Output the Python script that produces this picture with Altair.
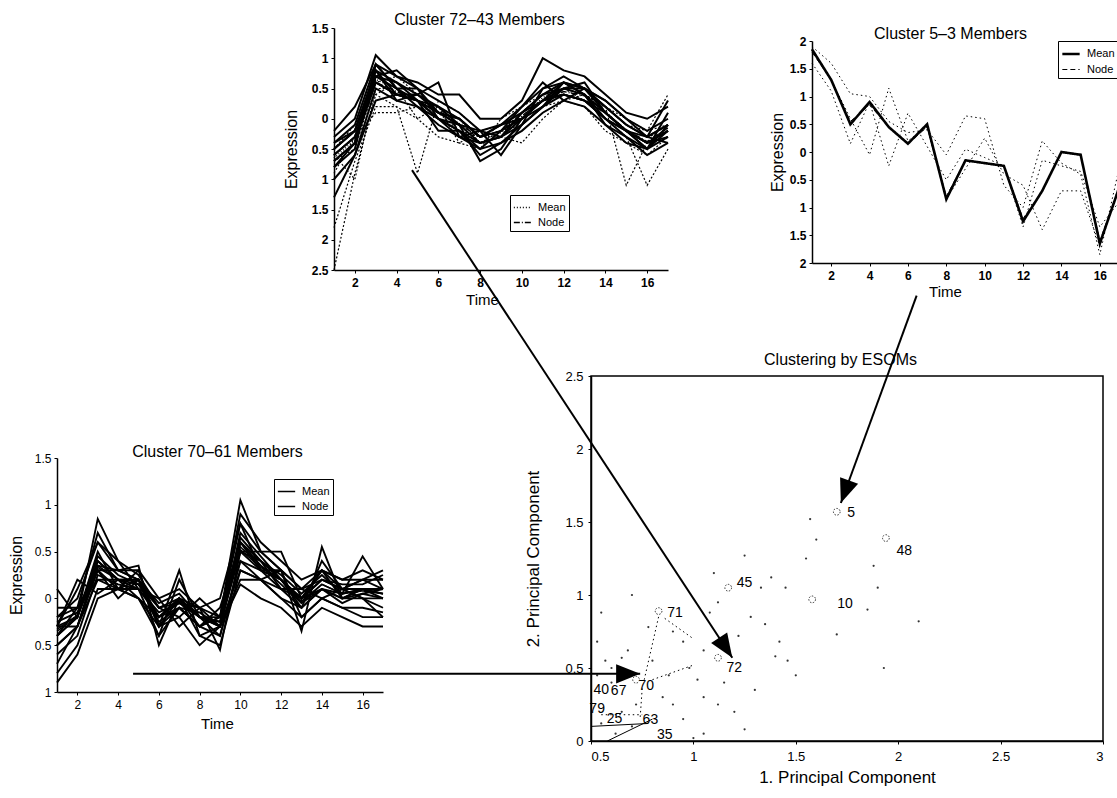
import math
import altair as alt
import pandas as pd

W, H = 1117, 798
FONT = "Liberation Sans"

# ---------------- data ----------------
TIME = list(range(1, 18))
TIME_TICKS = [2, 4, 6, 8, 10, 12, 14, 16]

# Cluster 72 (43 members, a readable subset)
C72_MEMBERS = [
    [-0.5, -0.2, 0.8, 0.6, 0.4, 0.2, 0.0, -0.3, -0.1, 0.1, 0.4, 0.6, 0.5, 0.2, -0.1, -0.3, -0.1],
    [-0.8, -0.4, 0.6, 0.4, 0.3, 0.0, -0.2, -0.4, -0.3, 0.0, 0.3, 0.4, 0.3, 0.0, -0.2, -0.5, -0.3],
    [-0.3, 0.0, 1.05, 0.7, 0.5, 0.3, 0.1, -0.2, -0.1, 0.2, 0.5, 0.7, 0.5, 0.3, 0.0, -0.2, 0.0],
    [-1.0, -0.6, 0.5, 0.3, 0.2, -0.1, -0.3, -0.5, -0.4, -0.1, 0.2, 0.4, 0.3, 0.0, -0.3, -0.6, -0.4],
    [-0.6, -0.3, 0.7, 0.5, 0.5, 0.1, -0.1, -0.7, -0.5, 0.0, 0.3, 0.6, 0.4, 0.1, -0.2, -0.4, -0.2],
    [-2.5, -0.9, 0.4, 0.6, 0.3, 0.2, -0.2, -0.3, -0.2, 0.1, 0.4, 0.5, 0.4, 0.2, -0.1, -0.3, -0.2],
    [-0.4, -0.1, 0.9, 0.5, 0.2, 0.0, -0.1, -0.2, -0.3, 0.1, 0.3, 0.5, 0.6, 0.1, -0.2, -0.5, 0.1],
    [-0.7, -0.5, 0.6, 0.7, 0.4, 0.2, 0.0, -0.4, -0.2, -0.1, 0.2, 0.3, 0.4, 0.2, -1.1, -0.4, -0.3],
    [-0.9, -0.3, 0.1, 0.1, 0.2, 0.1, -0.2, -0.3, -0.3, 0.0, 0.3, 0.5, 0.3, 0.0, -0.3, -1.1, -0.5],
    [-0.5, -0.2, 0.8, 0.4, 0.4, 0.6, -0.3, -0.2, -0.6, -0.1, 0.5, 0.6, 0.5, 0.3, 0.0, -0.3, -0.1],
    [-0.6, -1.0, 0.5, 0.5, 0.0, 0.2, -0.4, -0.5, 0.0, 0.2, 0.4, 0.4, 0.3, 0.2, -0.1, -0.2, 0.4],
    [-1.3, -0.6, 0.3, 0.4, 0.3, -0.2, -0.2, -0.6, -0.4, -0.2, 0.1, 0.3, 0.2, -0.1, -0.4, -0.5, -0.2],
    [-0.2, 0.2, 0.9, 0.7, 0.6, 0.4, 0.4, 0.0, 0.0, 0.3, 1.0, 0.8, 0.7, 0.4, 0.1, 0.0, 0.2],
    [-0.7, -0.4, 0.7, 0.6, 0.3, 0.0, -0.3, -0.4, -0.3, -0.1, 0.2, 0.5, 0.5, 0.1, -0.2, -0.4, -0.3],
    [-0.5, -0.1, 0.4, 0.2, -0.9, 0.3, 0.1, -0.2, -0.1, 0.1, 0.4, 0.6, 0.4, 0.2, 0.0, -0.2, -0.1],
    [-0.8, -0.5, 0.9, 0.5, 0.3, 0.1, 0.0, -0.3, -0.2, 0.0, 0.3, 0.4, 0.3, 0.1, -0.2, -0.3, -0.4],
    [-0.6, -0.3, 0.6, 0.4, 0.3, 0.2, -0.1, -0.4, -0.3, 0.1, 0.4, 0.5, 0.4, 0.0, -0.2, -0.4, -0.2],
    [-1.8, -0.7, 0.2, 0.2, 0.0, -0.3, -0.4, -0.2, -0.3, -0.4, 0.0, 0.3, 0.2, -0.2, -0.4, -0.6, -0.3],
    [-0.4, -0.2, 0.7, 0.8, 0.5, 0.0, -0.2, -0.5, -0.2, 0.2, 0.6, 0.3, 0.5, 0.2, -0.1, -0.3, 0.3],
    [-0.7, -0.4, 0.8, 0.3, 0.4, 0.1, 0.0, -0.3, -0.1, 0.0, 0.2, 0.6, 0.4, -0.1, -0.3, -0.5, -0.1],
]
C72_DOTTED = [5, 7, 8, 10, 14, 17]
C72_MEAN = [-0.65, -0.35, 0.65, 0.5, 0.3, 0.12, -0.08, -0.3, -0.23, 0.03, 0.35, 0.5, 0.4, 0.12, -0.2, -0.4, -0.15]
C72_NODE = [-0.6, -0.3, 0.6, 0.45, 0.3, 0.1, -0.1, -0.3, -0.2, 0.05, 0.3, 0.45, 0.38, 0.1, -0.18, -0.38, -0.15]
C72_Y_TICKS = [-2.5, -2, -1.5, -1, -0.5, 0, 0.5, 1, 1.5]

# Cluster 5 (3 members)
C5_MEMBERS = [
    [1.9, 1.6, 1.05, 1.0, 0.55, 0.35, 0.4, -0.05, 0.65, 0.6, -0.6, -1.0, 0.2, -0.2, -0.4, -1.85, -0.3],
    [1.6, 1.1, 0.15, 0.9, -0.25, 0.7, 0.1, -0.5, 0.05, -0.1, -0.25, -1.35, -0.15, -0.25, -0.35, -1.35, -0.9],
    [1.85, 1.3, 0.6, -0.05, 1.15, 0.2, 0.45, -0.85, -0.3, 0.25, -0.4, -0.6, -1.4, -0.7, -0.7, -1.7, -0.6],
]
C5_MEAN = [1.85, 1.3, 0.5, 0.9, 0.45, 0.15, 0.5, -0.85, -0.15, -0.2, -0.25, -1.25, -0.7, 0.0, -0.05, -1.65, -0.65]
C5_NODE = [1.8, 1.3, 0.55, 0.85, 0.45, 0.15, 0.45, -0.8, -0.15, -0.2, -0.25, -1.2, -0.7, 0.0, -0.05, -1.6, -0.65]
C5_Y_TICKS = [-2, -1.5, -1, -0.5, 0, 0.5, 1, 1.5, 2]

# Cluster 70 (61 members, a readable subset)
C70_MEMBERS = [
    [-0.3, -0.2, 0.4, 0.2, 0.2, -0.2, 0.0, -0.2, -0.3, 0.6, 0.4, 0.2, 0.0, 0.2, 0.1, 0.1, 0.1],
    [-0.5, -0.3, 0.2, 0.1, 0.1, -0.4, -0.1, -0.3, -0.4, 0.4, 0.3, 0.1, -0.1, 0.1, 0.0, 0.0, -0.1],
    [-0.2, 0.0, 0.6, 0.3, 0.3, 0.0, 0.1, -0.1, -0.2, 0.8, 0.5, 0.3, 0.1, 0.3, 0.2, 0.2, 0.2],
    [-0.8, -0.5, 0.1, 0.1, 0.0, -0.3, 0.3, -0.4, -0.5, 0.3, 0.2, 0.0, -0.2, 0.0, -0.1, -0.2, -0.2],
    [0.1, -0.2, 0.85, 0.4, 0.25, -0.1, -0.2, 0.0, -0.2, 1.05, 0.5, 0.5, 0.0, 0.3, 0.1, 0.2, 0.3],
    [-0.4, -0.1, 0.3, 0.3, 0.35, -0.5, 0.0, -0.3, -0.1, 0.6, 0.3, 0.3, -0.35, 0.55, 0.0, 0.1, 0.0],
    [-0.3, 0.2, 0.05, 0.2, 0.2, -0.3, -0.2, -0.5, -0.3, 0.2, 0.2, 0.1, 0.0, 0.1, 0.05, 0.45, 0.1],
    [-0.6, -0.4, 0.25, 0.15, 0.1, -0.15, -0.05, -0.1, -0.55, 0.5, 0.4, 0.1, 0.1, 0.2, 0.1, 0.0, -0.2],
    [-0.1, -0.1, 0.7, 0.3, 0.2, -0.05, 0.05, -0.2, -0.2, 0.9, 0.6, 0.4, 0.2, 0.3, 0.2, 0.3, 0.2],
    [-0.9, -0.6, 0.0, 0.1, 0.0, -0.2, 0.0, -0.2, -0.3, 0.15, 0.0, -0.1, -0.3, -0.1, -0.2, -0.3, -0.3],
    [-0.3, -0.3, 0.35, 0.3, 0.2, -0.1, 0.0, -0.1, -0.3, 0.7, 0.45, 0.2, 0.0, 0.3, 0.0, 0.1, 0.1],
    [-0.4, -0.2, 0.5, 0.1, 0.3, -0.3, -0.1, -0.3, -0.2, 0.5, 0.5, 0.3, 0.1, 0.0, 0.1, 0.0, 0.0],
    [-0.2, -0.1, 0.2, 0.2, 0.0, -0.4, 0.2, -0.2, -0.4, 0.4, 0.2, 0.0, -0.1, 0.4, 0.1, 0.2, 0.1],
    [-0.5, -0.3, 0.4, 0.2, 0.1, -0.2, -0.1, -0.3, -0.2, 0.6, 0.35, 0.15, -0.05, 0.1, -0.05, 0.05, 0.0],
    [-0.3, 0.1, 0.6, 0.4, 0.1, 0.0, -0.3, -0.1, 0.0, 0.8, 0.3, 0.2, 0.0, 0.2, 0.15, 0.15, 0.25],
    [-0.7, -0.3, 0.3, 0.0, 0.2, -0.3, 0.0, -0.4, -0.3, 0.3, 0.2, 0.3, -0.2, 0.0, -0.1, -0.1, -0.15],
    [-0.4, -0.2, 0.45, 0.25, 0.15, -0.1, -0.05, -0.2, -0.25, 0.65, 0.4, 0.25, 0.05, 0.25, 0.05, 0.1, 0.05],
    [-0.25, -0.15, 0.3, 0.1, 0.2, -0.25, -0.1, -0.15, -0.3, 0.5, 0.3, 0.2, -0.1, 0.1, 0.0, 0.05, 0.1],
]
C70_MEAN = [-0.35, -0.2, 0.35, 0.2, 0.15, -0.2, -0.05, -0.2, -0.25, 0.55, 0.35, 0.2, -0.05, 0.15, 0.05, 0.1, 0.05]
C70_NODE = [-0.33, -0.18, 0.33, 0.2, 0.15, -0.2, -0.03, -0.2, -0.25, 0.52, 0.33, 0.2, -0.03, 0.15, 0.05, 0.08, 0.05]
C70_Y_TICKS = [-1, -0.5, 0, 0.5, 1, 1.5]

# ESOM scatter (principal components)
SC_X_TICKS = [0.5, 1, 1.5, 2, 2.5, 3]
SC_Y_TICKS = [0, 0.5, 1, 1.5, 2, 2.5]
NODE_LABEL = ["5", "48", "45", "10", "71", "72", "70", "40", "67", "79", "25", "63", "35"]
NODE_LX = [1.77, 2.03, 1.25, 1.74, 0.91, 1.20, 0.77, 0.55, 0.635, 0.53, 0.615, 0.79, 0.86]
NODE_LY = [1.56, 1.30, 1.08, 0.94, 0.88, 0.50, 0.38, 0.35, 0.34, 0.22, 0.15, 0.145, 0.04]
GLYPH_X = [1.70, 1.94, 1.17, 1.58, 0.83, 1.12, 0.72]
GLYPH_Y = [1.57, 1.39, 1.05, 0.97, 0.89, 0.57, 0.42]
DOT_X = [0.55, 0.53, 0.57, 0.60, 0.65, 0.70, 0.78, 0.68, 0.90, 0.95, 0.98, 1.02, 1.05, 1.08,
         1.12, 1.10, 1.25, 1.22, 1.28, 1.33, 1.35, 1.40, 1.42, 1.46, 1.55, 1.57, 1.60, 1.45,
         1.70, 1.85, 1.90, 1.88, 1.93, 2.10, 1.05, 1.12, 1.20, 1.25, 0.90, 0.85, 0.95, 1.00,
         1.05, 0.62, 0.70, 0.55, 0.65, 0.72, 1.15, 1.30, 1.50, 0.80, 0.88, 0.60, 0.53, 1.38]
DOT_Y = [0.88, 0.68, 0.55, 0.50, 0.57, 1.00, 0.78, 0.62, 0.75, 0.68, 0.50, 0.42, 0.62, 0.88,
         0.95, 1.15, 1.27, 0.72, 0.85, 1.05, 0.80, 0.58, 0.68, 0.55, 1.25, 1.52, 1.38, 1.05,
         0.73, 0.90, 1.05, 1.20, 0.50, 0.82, 0.30, 0.25, 0.20, 0.08, 0.25, 0.30, 0.15, 0.02,
         0.05, 0.05, 0.10, 0.12, 0.20, 0.25, 0.40, 0.35, 0.45, 0.55, 0.45, 0.40, 0.45, 1.12]
EDGE_X1 = [0.83, 0.86, 0.80, 0.75, 0.55, 0.50, 0.58]
EDGE_Y1 = [0.85, 0.84, 0.42, 0.36, 0.18, 0.10, 0.00]
EDGE_X2 = [0.76, 1.00, 1.00, 0.74, 0.75, 0.78, 0.80]
EDGE_Y2 = [0.42, 0.70, 0.52, 0.16, 0.18, 0.12, 0.15]
EDGE_SOLID = [False, False, False, False, False, True, True]

# arrows linking panels to nodes, in principal-component coordinates
ARROW_X0 = [-0.374, 2.09, -1.736]
ARROW_Y0 = [3.91, 3.05, 0.46]
ARROW_X1 = [1.19, 1.72, 0.74]
ARROW_Y1 = [0.57, 1.63, 0.46]

# ---------------- layout (plot areas in pixels) ----------------
BOX = {
    "c72": {"xd": [1, 17], "yd": [-2.5, 1.5], "xr": [334, 668], "yr": [270, 28]},
    "c5": {"xd": [1, 17], "yd": [-2, 2], "xr": [812, 1119], "yr": [263, 41]},
    "c70": {"xd": [1, 17], "yd": [-1, 1.5], "xr": [57, 383], "yr": [692, 458]},
    "sc": {"xd": [0.5, 3], "yd": [0, 2.5], "xr": [591, 1103], "yr": [741, 376]},
}


def sx(p):
    return alt.Scale(domain=BOX[p]["xd"], range=BOX[p]["xr"], nice=False, zero=False)


def sy(p):
    return alt.Scale(domain=BOX[p]["yd"], range=BOX[p]["yr"], nice=False, zero=False)


def long(series_list, prefix, idx=None):
    rows = []
    for i, s in enumerate(series_list):
        if idx is not None and i not in idx:
            continue
        for t, v in zip(TIME, s):
            rows.append({"t": t, "v": v, "id": f"{prefix}{i}"})
    return pd.DataFrame(rows)


def mean_node(mean, node):
    rows = [{"t": t, "v": v, "kind": "Mean"} for t, v in zip(TIME, mean)]
    rows += [{"t": t, "v": v, "kind": "Node"} for t, v in zip(TIME, node)]
    return pd.DataFrame(rows)


def bottom_axis(p, title, values, label_expr, bold, lsize, tsize, tpad, lpad, title_x=None):
    kw = dict(orient="bottom", offset=BOX[p]["yr"][0] - H, title=title, values=values,
              labelExpr=label_expr, labelFont=FONT, labelFontSize=lsize,
              labelFontWeight="bold" if bold else "normal", titleFont=FONT,
              titleFontSize=tsize, titleFontWeight="normal", titlePadding=tpad,
              labelPadding=lpad, tickSize=3, domainColor="black", tickColor="black",
              domainWidth=1.5, labelColor="black", titleColor="black", grid=False)
    if title_x is not None:
        kw["titleX"] = title_x
    return alt.Axis(**kw)


def left_axis(p, title, values, label_expr, bold, lsize, tsize, tpad, lpad):
    return alt.Axis(orient="left", offset=-BOX[p]["xr"][0], title=title, values=values,
                    labelExpr=label_expr, labelFont=FONT, labelFontSize=lsize,
                    labelFontWeight="bold" if bold else "normal", titleFont=FONT,
                    titleFontSize=tsize, titleFontWeight="normal", titlePadding=tpad,
                    labelPadding=lpad, tickSize=3, domainColor="black", tickColor="black",
                    domainWidth=1.5, labelColor="black", titleColor="black", grid=False)


def title_layer(p, df, text, y_base, x_center, size=16):
    ax = alt.Axis(orient="top", offset=-y_base, title=text, labels=False, ticks=False,
                  domain=False, grid=False, titleFont=FONT, titleFontSize=size,
                  titleFontWeight="normal", titleColor="black", titlePadding=0,
                  titleX=x_center)
    return alt.Chart(df).mark_point(opacity=0).encode(x=alt.X("t:Q", scale=sx(p), axis=ax))


ABS = "format(abs(datum.value), '~g')"
PLAIN = "format(datum.value, '~g')"

layers = []


def cluster_panel(p, members, dotted_idx, mean, node, title, title_y, title_x, time_x,
                  y_ticks, bold, member_width, member_dash_all, legend_xy, dash_range,
                  width_range, ytpad, xtpad):
    all_idx = list(range(len(members)))
    solid_idx = [i for i in all_idx if i not in dotted_idx]
    xa = bottom_axis(p, "Time", TIME_TICKS, PLAIN, bold, 12, 15, xtpad, 4, time_x)
    ya = left_axis(p, "Expression", y_ticks, ABS, bold, 12, 16, ytpad, 3)
    first = True
    for idx, dash, wid in ((solid_idx, member_dash_all, member_width), (dotted_idx, [2, 2], 1.2)):
        if not idx:
            continue
        df = long(members, p, idx)
        enc = dict(
            x=alt.X("t:Q", scale=sx(p), axis=xa if first else None),
            y=alt.Y("v:Q", scale=sy(p), axis=ya if first else None),
            detail="id:N",
        )
        mk = dict(color="black", strokeWidth=wid)
        if dash:
            mk["strokeDash"] = dash
        layers.append(alt.Chart(df).mark_line(**mk).encode(**enc))
        first = False
    mn = mean_node(mean, node)
    layers.append(
        alt.Chart(mn).mark_line(color="black").encode(
            x=alt.X("t:Q", scale=sx(p), axis=None),
            y=alt.Y("v:Q", scale=sy(p), axis=None),
            strokeDash=alt.StrokeDash(
                "kind:N",
                scale=alt.Scale(domain=["Mean", "Node"], range=dash_range),
                legend=alt.Legend(orient="none", legendX=legend_xy[0], legendY=legend_xy[1],
                                  title=None, strokeColor="black", fillColor="white",
                                  padding=3, rowPadding=0, labelFont=FONT, labelFontSize=11,
                                  labelColor="black", symbolType="stroke",
                                  symbolStrokeColor="black", symbolStrokeWidth=1,
                                  symbolSize=300, labelOffset=6),
            ),
            strokeWidth=alt.StrokeWidth("kind:N", scale=alt.Scale(domain=["Mean", "Node"],
                                                                   range=width_range),
                                        legend=None),
        )
    )
    layers.append(title_layer(p, mn, title, title_y, title_x))


cluster_panel("c72", C72_MEMBERS, C72_DOTTED, C72_MEAN, C72_NODE, "Cluster 72\u201343 Members",
              27, 479, 482, C72_Y_TICKS, True, 2.0, None, (510, 195),
              [[1, 2], [6, 2, 1, 2]], [1.5, 1.5], 12, 4)
cluster_panel("c5", C5_MEMBERS, [], C5_MEAN, C5_NODE, "Cluster 5\u20133 Members",
              41, 950, 945, C5_Y_TICKS, True, 1.0, [1.5, 3], (1058, 41),
              [[1, 0], [5, 3]], [2.6, 1.0], 4, 3)
cluster_panel("c70", C70_MEMBERS, [], C70_MEAN, C70_NODE, "Cluster 70\u201361 Members",
              459, 217, 217, C70_Y_TICKS, False, 1.9, None, (274, 479),
              [[1, 0], [1, 0]], [1.5, 1.5], 10, 6)

# ---------------- scatter panel ----------------
frame = pd.DataFrame({"x1": [BOX["sc"]["xd"][0]], "x2": [BOX["sc"]["xd"][1]],
                      "y1": [BOX["sc"]["yd"][0]], "y2": [BOX["sc"]["yd"][1]]})
sc_xa = bottom_axis("sc", "1. Principal Component", SC_X_TICKS, PLAIN, False, 13, 17, 6, 6)
sc_ya = left_axis("sc", "2. Principal Component", SC_Y_TICKS, PLAIN, False, 13, 17, 22, 5)
layers.append(
    alt.Chart(frame).mark_rect(fillOpacity=0, stroke="black", strokeWidth=1.5).encode(
        x=alt.X("x1:Q", scale=sx("sc"), axis=sc_xa),
        x2="x2:Q",
        y=alt.Y("y1:Q", scale=sy("sc"), axis=sc_ya),
        y2="y2:Q",
    )
)
dots = pd.DataFrame({"x": DOT_X, "y": DOT_Y})
layers.append(
    alt.Chart(dots).mark_point(filled=True, size=5, color="black", opacity=0.8).encode(
        x=alt.X("x:Q", scale=sx("sc"), axis=None), y=alt.Y("y:Q", scale=sy("sc"), axis=None))
)
edges = pd.DataFrame({"x": EDGE_X1, "y": EDGE_Y1, "x2": EDGE_X2, "y2": EDGE_Y2, "solid": EDGE_SOLID})
layers.append(
    alt.Chart(edges[~edges["solid"]]).mark_rule(color="black", strokeWidth=1, strokeDash=[1.5, 3]).encode(
        x=alt.X("x:Q", scale=sx("sc"), axis=None), y=alt.Y("y:Q", scale=sy("sc"), axis=None),
        x2="x2:Q", y2="y2:Q")
)
layers.append(
    alt.Chart(edges[edges["solid"]]).mark_rule(color="black", strokeWidth=1).encode(
        x=alt.X("x:Q", scale=sx("sc"), axis=None), y=alt.Y("y:Q", scale=sy("sc"), axis=None),
        x2="x2:Q", y2="y2:Q")
)
glyphs = pd.DataFrame({"x": GLYPH_X, "y": GLYPH_Y})
layers.append(
    alt.Chart(glyphs).mark_point(shape="circle", size=45, color="black", strokeWidth=0.8,
                                 strokeDash=[1.5, 1.5], opacity=1).encode(
        x=alt.X("x:Q", scale=sx("sc"), axis=None), y=alt.Y("y:Q", scale=sy("sc"), axis=None))
)
labels = pd.DataFrame({"x": NODE_LX, "y": NODE_LY, "label": NODE_LABEL})
layers.append(
    alt.Chart(labels).mark_text(font=FONT, fontSize=14, color="black", align="center",
                                baseline="middle").encode(
        x=alt.X("x:Q", scale=sx("sc"), axis=None), y=alt.Y("y:Q", scale=sy("sc"), axis=None),
        text="label:N")
)
layers.append(
    alt.Chart(frame).mark_point(opacity=0).encode(
        x=alt.X("x1:Q", scale=sx("sc"),
                axis=alt.Axis(orient="top", offset=-367, title="Clustering by ESOMs",
                              labels=False, ticks=False, domain=False, grid=False,
                              titleFont=FONT, titleFontSize=16, titleFontWeight="normal",
                              titleColor="black", titlePadding=0, titleX=840)))
)

# ---------------- arrows ----------------
spx = (BOX["sc"]["xr"][1] - BOX["sc"]["xr"][0]) / (BOX["sc"]["xd"][1] - BOX["sc"]["xd"][0])
spy = (BOX["sc"]["yr"][0] - BOX["sc"]["yr"][1]) / (BOX["sc"]["yd"][1] - BOX["sc"]["yd"][0])
angles = []
for x0, y0, x1, y1 in zip(ARROW_X0, ARROW_Y0, ARROW_X1, ARROW_Y1):
    dx = (x1 - x0) * spx
    dy = -(y1 - y0) * spy
    angles.append(math.degrees(math.atan2(dx, -dy)) % 360)
arrows = pd.DataFrame({"x": ARROW_X0, "y": ARROW_Y0, "x2": ARROW_X1, "y2": ARROW_Y1, "ang": angles})
layers.append(
    alt.Chart(arrows).mark_rule(color="black", strokeWidth=2).encode(
        x=alt.X("x:Q", scale=sx("sc"), axis=None), y=alt.Y("y:Q", scale=sy("sc"), axis=None),
        x2="x2:Q", y2="y2:Q")
)
layers.append(
    alt.Chart(arrows).mark_point(shape="M0,0 L-0.8,2 L0.8,2 Z", filled=True, size=576,
                                 color="black", opacity=1).encode(
        x=alt.X("x2:Q", scale=sx("sc"), axis=None), y=alt.Y("y2:Q", scale=sy("sc"), axis=None),
        angle=alt.Angle("ang:Q", scale=None))
)

chart = (
    alt.layer(*layers)
    .resolve_scale(x="independent", y="independent", strokeDash="independent",
                   strokeWidth="independent")
    .properties(width=W, height=H, autosize=alt.AutoSizeParams(type="none"), padding=0,
                background="white")
    .configure_view(stroke=None)
    .configure_axis(grid=False)
)

chart.save("out.html", embed_options={"renderer": "svg", "actions": False})
